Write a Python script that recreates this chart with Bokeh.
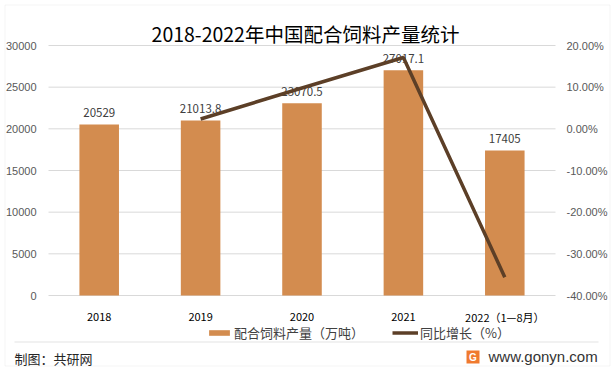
from bokeh.plotting import figure
from bokeh.models import Range1d, Label, BoxAnnotation
from bokeh.core.properties import value
from bokeh.embed import file_html
from bokeh.resources import INLINE

# ---- data ----
years = ["2018", "2019", "2020", "2021", "2022（1—8月）"]
output = [20529, 21013.8, 23070.5, 27017.1, 17405]          # 万吨
growth_years = ["2019", "2020", "2021", "2022（1—8月）"]
growth = [2.36, 9.79, 17.11, -35.6]                          # %
left_ticks = [0, 5000, 10000, 15000, 20000, 25000, 30000]
right_ticks = [-40, -30, -20, -10, 0, 10, 20]

FONT = "Noto Sans CJK SC"
NUMFONT = "Liberation Sans"
W, H = 613, 369

# ---- layout (pixels) ----
PL, PR, PT, PB = 48, 555, 45, 295       # plot area
n = len(years)
cat_w = (PR - PL) / n
idx = list(range(n))
gidx = [years.index(y) for y in growth_years]
x_start = -0.5 - PL / cat_w
x_end = x_start + W / cat_w
ly0, ly1 = left_ticks[0], left_ticks[-1]
ry0, ry1 = right_ticks[0], right_ticks[-1]
lpp = (ly1 - ly0) / (PB - PT)
rpp = (ry1 - ry0) / (PB - PT)

p = figure(width=W, height=H, output_backend="svg", toolbar_location=None,
           x_range=Range1d(x_start, x_end),
           y_range=Range1d(ly0 - (H - PB) * lpp, ly1 + PT * lpp),
           x_axis_location=None, y_axis_location=None,
           min_border=0, min_border_left=0, min_border_right=0,
           min_border_top=0, min_border_bottom=0)
p.extra_y_ranges = {"pct": Range1d(ry0 - (H - PB) * rpp, ry1 + PT * rpp)}
p.outline_line_color = None
p.grid.visible = False
p.background_fill_color = "white"
p.border_fill_color = "white"

# outer border
p.add_layout(BoxAnnotation(left=4.5, right=609.5, top=H - 4.5, bottom=H - 365.5,
                           left_units="screen", right_units="screen",
                           top_units="screen", bottom_units="screen",
                           fill_alpha=0, line_color="#d9d9d9", line_width=1))

# gridlines
p.segment(x0=-0.5, x1=n - 0.5, y0=left_ticks, y1=left_ticks,
          line_color="#d9d9d9", line_width=1)

# axis tick labels
p.text(x=-0.5, y=left_ticks, text=[str(t) for t in left_ticks],
       x_offset=-12, text_align="right", text_baseline="middle",
       text_font=value(NUMFONT), text_font_size="11px", text_color="#595959")
p.text(x=n - 0.5, y=right_ticks, text=[f"{t:.2f}%" for t in right_ticks],
       y_range_name="pct", x_offset=11, text_align="left",
       text_baseline="middle",
       text_font=value(NUMFONT), text_font_size="11px", text_color="#595959")
p.text(x=idx, y=0, text=years, y_offset=21, text_align="center",
       text_baseline="middle", text_font=value(FONT),
       text_font_size="11px", text_color="#000000")

# bars
bars = p.vbar(x=idx, top=output, width=0.39, fill_color="#D38C4F",
              line_color=None, legend_label="配合饲料产量（万吨）")

# bar value labels
p.text(x=idx, y=output, text=[f"{v:g}" for v in output],
       text_align="center", text_baseline="bottom", y_offset=-7,
       text_font=value(FONT), text_font_size="11.5px", text_color="#404040")

# growth line
p.line(x=gidx, y=growth, y_range_name="pct", line_color="#5C3F27",
       line_width=3.5, legend_label="同比增长（%）")

# title
p.add_layout(Label(x=305, y=H - 33, x_units="screen", y_units="screen",
                   text="2018-2022年中国配合饲料产量统计", text_font=FONT,
                   text_font_size="19.5px", text_color="#000000",
                   text_align="center", text_baseline="middle"))

# legend
lg = p.legend[0]
lg.orientation = "horizontal"
lg.location = (206, H - 342)
lg.border_line_color = None
lg.background_fill_alpha = 0
lg.padding = 0
lg.margin = 0
lg.spacing = 28
lg.label_standoff = 2
lg.glyph_width = 26
lg.glyph_height = 7
lg.label_height = 14
lg.label_text_font = FONT
lg.label_text_font_size = "13px"
lg.label_text_color = "#404040"

# footer
p.add_layout(BoxAnnotation(left=14, right=598, top=H - 341, bottom=H - 342,
                           left_units="screen", right_units="screen",
                           top_units="screen", bottom_units="screen",
                           fill_color="#e3e3e3", fill_alpha=1, line_color=None))
p.add_layout(Label(x=14, y=H - 358, x_units="screen", y_units="screen",
                   text="制图：共研网", text_font=FONT, text_font_size="13px",
                   text_color="#262626", text_baseline="middle"))
p.add_layout(BoxAnnotation(left=466, right=479, top=H - 350, bottom=H - 363,
                           left_units="screen", right_units="screen",
                           top_units="screen", bottom_units="screen",
                           fill_color="#F07A2E", fill_alpha=1, line_color=None))
p.add_layout(Label(x=472.5, y=H - 356.5, x_units="screen", y_units="screen",
                   text="G", text_font=NUMFONT, text_font_size="10px",
                   text_font_style="bold", text_color="white",
                   text_align="center", text_baseline="middle"))
p.add_layout(Label(x=488, y=H - 356, x_units="screen", y_units="screen",
                   text="www.gonyn.com", text_font=NUMFONT,
                   text_font_size="15px", text_color="#333333",
                   text_baseline="middle"))

open("out.html", "w").write(file_html(p, INLINE))
